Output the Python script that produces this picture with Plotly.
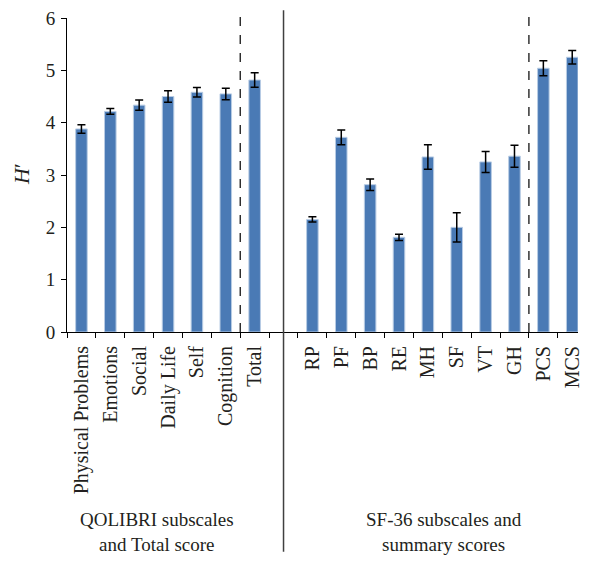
import plotly.graph_objects as go

categories = ["Physical Problems", "Emotions", "Social", "Daily Life", "Self", "Cognition", "Total", " ",
              "RP", "PF", "BP", "RE", "MH", "SF", "VT", "GH", "PCS", "MCS"]
values = [3.88, 4.215, 4.335, 4.50, 4.58, 4.55, 4.815, None,
          2.15, 3.72, 2.815, 1.81, 3.345, 2.00, 3.25, 3.36, 5.04, 5.25]
errors = [0.08, 0.055, 0.10, 0.11, 0.09, 0.11, 0.14, None,
          0.05, 0.14, 0.11, 0.06, 0.235, 0.28, 0.20, 0.21, 0.145, 0.13]
y_ticks = [0, 1, 2, 3, 4, 5, 6]
group_labels = ["QOLIBRI subscales<br>and Total score", "SF-36 subscales and<br>summary scores"]
y_title = "<i>H</i>′"

FONT = "Liberation Serif, Times New Roman, serif"
TXT = "#231f20"

fig = go.Figure()
fig.add_trace(go.Bar(
    x=categories, y=values, width=0.4,
    marker=dict(color="#4a7ab5", line=dict(color="#b8cce4", width=1)),
    error_y=dict(type="data", array=errors, visible=True, color="black", thickness=1.5, width=4),
    showlegend=False,
))

fig.update_layout(
    width=575, height=547,
    margin=dict(l=59, r=0, t=7, b=223),
    paper_bgcolor="white", plot_bgcolor="white",
    font=dict(family=FONT, size=20, color=TXT),
    xaxis=dict(
        type="category", categoryorder="array", categoryarray=categories,
        range=[-0.5, 17.2], tickangle=-90, tickson="boundaries",
        ticks="outside", ticklen=5, tickcolor="black", tickwidth=1,
        showline=True, linecolor="black", linewidth=1, showgrid=False,
        ticklabelstandoff=5,
        tickfont=dict(family=FONT, size=20, color=TXT),
    ),
    yaxis=dict(
        range=[0, 6], tickvals=y_ticks, ticks="outside", ticklen=5, tickcolor="black",
        showline=True, linecolor="black", linewidth=1, showgrid=False, zeroline=False,
        ticklabelstandoff=2, ticklabeloverflow="allow",
        tickfont=dict(family=FONT, size=19, color=TXT),
    ),
)

# divider lines
for xv in [5.5, 15.5]:
    fig.add_shape(type="line", xref="x", yref="paper", x0=xv, x1=xv, y0=0, y1=1.025,
                  line=dict(color="black", width=1.2, dash="dash"))
fig.add_shape(type="line", xref="x", yref="paper", x0=7, x1=7, y0=-0.70, y1=1.025,
              line=dict(color="#404040", width=1.5))

fig.add_annotation(xref="paper", yref="paper", x=0.1764, y=-0.637, text=group_labels[0],
                   showarrow=False, xanchor="center", yanchor="middle",
                   font=dict(family=FONT, size=19, color=TXT))
fig.add_annotation(xref="paper", yref="paper", x=0.7384, y=-0.637, text=group_labels[1],
                   showarrow=False, xanchor="center", yanchor="middle",
                   font=dict(family=FONT, size=19, color=TXT))
fig.add_annotation(xref="paper", yref="paper", x=-0.0891, y=0.505, text=y_title,
                   showarrow=False, textangle=-90, xanchor="center", yanchor="middle",
                   font=dict(family=FONT, size=22, color=TXT))

fig.write_html("out.html")
